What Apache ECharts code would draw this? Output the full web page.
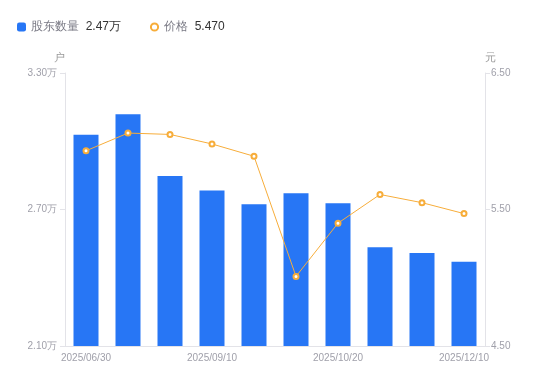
<!DOCTYPE html>
<html><head><meta charset="utf-8">
<script src="https://cdn.jsdelivr.net/npm/echarts@6/dist/echarts.min.js"></script>
<style>html,body{margin:0;padding:0;background:#fff}#c{width:550px;height:381px}</style>
</head><body><div id="c"></div>
<script>
var categories = ['2025/06/30','2025/07/31','2025/08/20','2025/09/10','2025/09/30','2025/10/10','2025/10/20','2025/10/31','2025/11/20','2025/12/10'];
var holders = [30290, 31190, 28470, 27830, 27230, 27710, 27270, 25340, 25090, 24700];
var prices = [5.93, 6.06, 6.05, 5.98, 5.89, 5.01, 5.40, 5.61, 5.55, 5.47];
var leftTicks = {min: 21000, max: 33000, interval: 6000};
var rightTicks = {min: 4.5, max: 6.5, interval: 1};

var lastH = (holders[holders.length-1]/10000).toFixed(2) + '万';
var lastP = prices[prices.length-1].toFixed(3);
var chart = echarts.init(document.getElementById('c'));
chart.setOption({
  animation: false,
  legend: {
    left: 12, top: 16, itemGap: 28, itemWidth: 9, itemHeight: 9,
    data: [{name:'股东数量', icon:'roundRect'}, {name:'价格'}],
    formatter: function(n){ return '{n|' + n + '}  {v|' + (n === '股东数量' ? lastH : lastP) + '}'; },
    textStyle: {rich: {n: {color:'#7a7a85', fontSize: 12}, v: {color:'#333', fontSize: 12}}}
  },
  grid: {left: 65, right: 65, top: 73, bottom: 35},
  xAxis: {
    type: 'category', data: categories,
    axisLine: {lineStyle: {color: '#e3e3e8'}},
    axisTick: {show: false},
    axisLabel: {interval: 2, color: '#a0a0aa', fontSize: 10, margin: 7}
  },
  yAxis: [{
    type: 'value', min: leftTicks.min, max: leftTicks.max, interval: leftTicks.interval,
    name: '户', nameGap: 10, nameTextStyle: {color:'#999', fontSize: 11, align: 'right'},
    axisLine: {show: true, lineStyle: {color: '#e3e3e8'}},
    axisTick: {show: true, length: 5, lineStyle: {color: '#e3e3e8'}},
    splitLine: {show: false},
    axisLabel: {color: '#a0a0aa', fontSize: 10, margin: 8, formatter: function(v){ return (v/10000).toFixed(2) + '万'; }}
  }, {
    type: 'value', min: rightTicks.min, max: rightTicks.max, interval: rightTicks.interval,
    name: '元', nameGap: 10, nameTextStyle: {color:'#999', fontSize: 11, align: 'left'},
    axisLine: {show: true, lineStyle: {color: '#e3e3e8'}},
    axisTick: {show: true, length: 5, lineStyle: {color: '#e3e3e8'}},
    splitLine: {show: false},
    axisLabel: {color: '#a0a0aa', fontSize: 10, margin: 6, formatter: function(v){ return v.toFixed(2); }}
  }],
  series: [{
    name: '股东数量', type: 'bar', data: holders, barWidth: 25,
    itemStyle: {color: '#2776f5'}
  }, {
    name: '价格', type: 'line', yAxisIndex: 1, data: prices,
    symbol: 'emptyCircle', symbolSize: 5, showAllSymbol: true,
    lineStyle: {color: '#f7ad3a', width: 1},
    itemStyle: {color: '#f7ad3a', borderWidth: 2}
  }]
});
</script></body></html>
